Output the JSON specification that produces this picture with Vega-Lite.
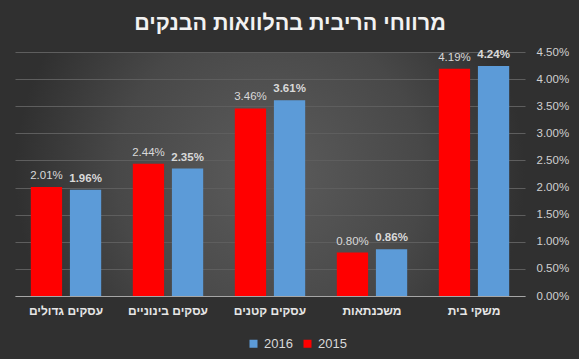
{
  "$schema": "https://vega.github.io/schema/vega-lite/v6.json",
  "width": 510,
  "height": 244,
  "autosize": {"type": "none"},
  "padding": {"left": 15, "top": 52, "right": 54, "bottom": 63},
  "background": "#303030",
  "config": {
    "font": "Liberation Sans",
    "view": {
      "stroke": null,
      "fill": {
        "gradient": "radial",
        "x1": 0.5, "y1": 0.5, "r1": 0,
        "x2": 0.5, "y2": 0.5, "r2": 0.5,
        "stops": [
          {"offset": 0, "color": "#5c5c5c"},
          {"offset": 0.6, "color": "#484848"},
          {"offset": 1, "color": "#303030"}
        ]
      }
    }
  },
  "title": {
    "text": "מרווחי הריבית בהלוואות הבנקים",
    "color": "#f2f2f2",
    "fontSize": 21.5,
    "fontWeight": "bold",
    "font": "Liberation Sans",
    "anchor": "middle",
    "frame": "group",
    "dx": 20,
    "offset": 12
  },
  "data": {
    "values": [
      {"cat": "עסקים גדולים", "year": "2015", "v": 0.0201},
      {"cat": "עסקים גדולים", "year": "2016", "v": 0.0196},
      {"cat": "עסקים בינוניים", "year": "2015", "v": 0.0244},
      {"cat": "עסקים בינוניים", "year": "2016", "v": 0.0235},
      {"cat": "עסקים קטנים", "year": "2015", "v": 0.0346},
      {"cat": "עסקים קטנים", "year": "2016", "v": 0.0361},
      {"cat": "משכנתאות", "year": "2015", "v": 0.0080},
      {"cat": "משכנתאות", "year": "2016", "v": 0.0086},
      {"cat": "משקי בית", "year": "2015", "v": 0.0419},
      {"cat": "משקי בית", "year": "2016", "v": 0.0424}
    ]
  },
  "encoding": {
    "x": {
      "field": "cat",
      "type": "nominal",
      "sort": null,
      "scale": {"paddingInner": 0.31, "paddingOuter": 0.155},
      "axis": {
        "title": null,
        "labelAngle": 0,
        "ticks": false,
        "domainColor": "#a6a6a6",
        "labelColor": "#e6e6e6",
        "labelFontWeight": "bold",
        "labelFontSize": 12,
        "labelPadding": 9,
        "grid": false
      }
    },
    "xOffset": {
      "field": "year",
      "type": "nominal",
      "scale": {"domain": ["2015", "2016"], "paddingInner": 0.2}
    },
    "y": {
      "field": "v",
      "type": "quantitative",
      "scale": {"domain": [0, 0.045], "nice": false},
      "axis": {
        "title": null,
        "orient": "right",
        "values": [0, 0.005, 0.01, 0.015, 0.02, 0.025, 0.03, 0.035, 0.04, 0.045],
        "format": ".2%",
        "grid": true,
        "gridColor": "#5e5e5e",
        "domain": false,
        "ticks": false,
        "labelPadding": 11,
        "labelColor": "#d0d0d0",
        "labelFontSize": 11.5
      }
    }
  },
  "layer": [
    {
      "mark": {"type": "bar"},
      "encoding": {
        "color": {
          "field": "year",
          "type": "nominal",
          "scale": {"domain": ["2016", "2015"], "range": ["#5c9bd8", "#ff0000"]},
          "legend": {
            "title": null,
            "orient": "none",
            "direction": "horizontal",
            "legendX": 232,
            "legendY": 285,
            "symbolType": "square",
            "symbolSize": 64,
            "symbolStrokeWidth": 0,
            "labelFontSize": 13,
            "labelFont": "Liberation Sans Narrow, Liberation Sans",
            "labelColor": "#d9d9d9",
            "columnPadding": 8
          }
        }
      }
    },
    {
      "transform": [{"filter": "datum.year == '2015'"}],
      "mark": {"type": "text", "baseline": "bottom", "dy": -6, "fontSize": 11.5, "color": "#d9d9d9"},
      "encoding": {"text": {"field": "v", "type": "quantitative", "format": ".2%"}}
    },
    {
      "transform": [{"filter": "datum.year == '2016'"}],
      "mark": {"type": "text", "baseline": "bottom", "dy": -6, "fontSize": 11.5, "fontWeight": "bold", "color": "#d9d9d9"},
      "encoding": {"text": {"field": "v", "type": "quantitative", "format": ".2%"}}
    }
  ]
}
